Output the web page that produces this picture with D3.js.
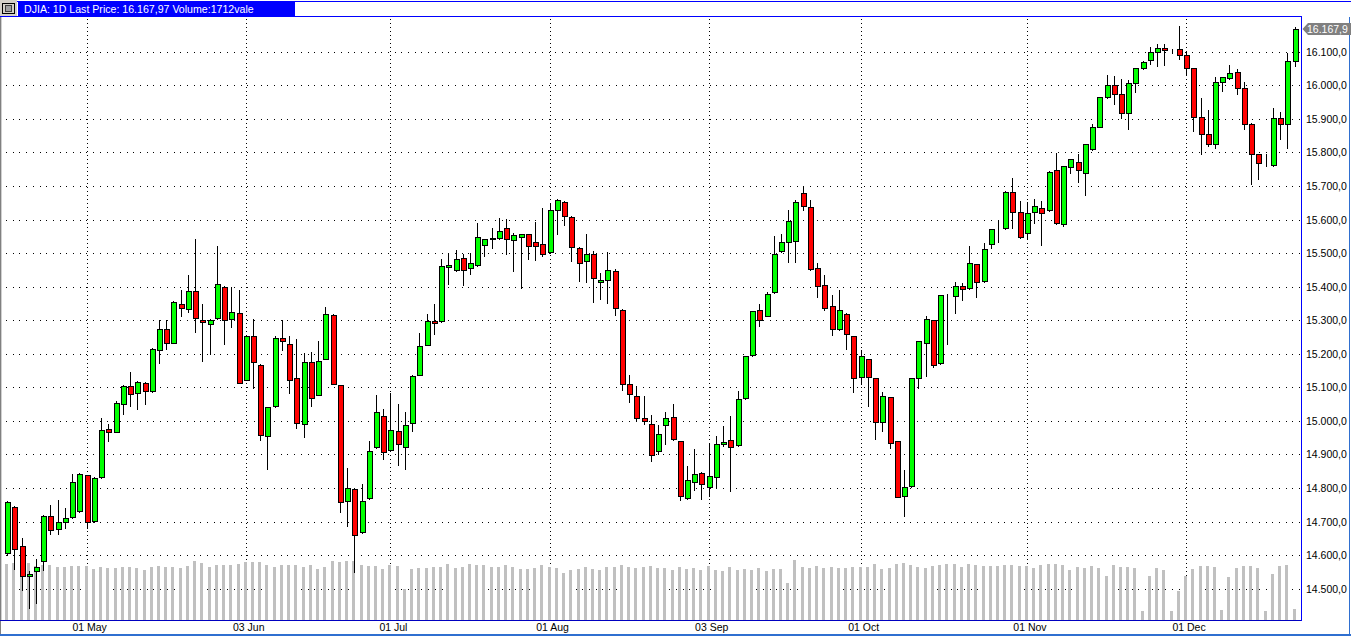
<!DOCTYPE html>
<html><head><meta charset="utf-8">
<script src="https://cdn.jsdelivr.net/npm/d3@7"></script>
<style>
html,body{margin:0;padding:0;background:#fff;overflow:hidden}
svg{display:block;font-family:"Liberation Sans",Arial,sans-serif}
</style></head><body>
<svg id="c" width="1351" height="636"></svg>
<script>
// ---------------- DATA ----------------
const titleText = "DJIA: 1D Last Price: 16.167,97 Volume:1712vale";
const lastPriceText = "16.167,9";
const lastPrice = 16167.97;

const opens = [14605,14744,14626,14539,14552,14582,14718,14679,14698,14714,
14731,14838,14702,14833,14976,14968,15051,15105,15084,15114,
15089,15212,15274,15233,15349,15334,15387,15301,15289,15307,
15399,15304,15322,15123,15253,15167,14956,15043,15247,15230,
15129,14992,15176,15078,15185,15316,15106,14760,14796,14668,
14770,14921,15016,14912,14971,14923,14995,15138,15227,15298,
15298,15458,15449,15485,15455,15464,15524,15541,15544,15574,
15539,15547,15556,15532,15526,15503,15628,15652,15607,15515,
15476,15498,15414,15420,15447,15331,15111,15075,15010,14992,
14909,14989,15013,14939,14769,14817,14844,14802,14832,14930,
14942,14927,15067,15195,15329,15314,15383,15505,15532,15535,
15678,15636,15455,15405,15342,15274,15318,15252,15132,15183,
15127,14996,15070,14939,14777,14805,15127,15231,15300,15172,
15372,15371,15401,15395,15466,15416,15526,15571,15574,15681,
15621,15559,15621,15633,15627,15747,15586,15755,15770,15740,
15809,15877,15964,16000,15973,15916,16006,16050,16074,16098,
16112,16103,16107,16089,16050,15904,15854,15824,16009,16021,
16039,15991,15886,15794,15766,15761,15901,15884,16071];

const highs = [14760,14746,14650,14553,14588,14720,14748,14763,14741,14843,
14845,14840,14833,15010,14990,15060,15107,15145,15119,15116,
15218,15301,15301,15358,15391,15436,15542,15349,15305,15522,
15401,15399,15391,15255,15304,15169,15042,15254,15302,15252,
15243,15203,15206,15238,15340,15318,15108,14859,14798,14811,
14940,15077,15034,15084,15050,15025,15137,15262,15319,15349,
15482,15497,15510,15498,15501,15590,15543,15576,15604,15601,
15559,15558,15558,15594,15635,15649,15660,15654,15609,15517,
15557,15506,15441,15503,15453,15333,15138,15105,15075,15019,
14989,15025,15049,14941,14867,14915,14847,14933,14956,14986,
15016,15088,15194,15328,15347,15383,15551,15557,15627,15657,
15700,15657,15470,15435,15375,15390,15320,15254,15211,15185,
15129,15085,15072,14941,14854,15129,15239,15313,15302,15376,
15378,15413,15410,15520,15468,15529,15573,15600,15684,15723,
15654,15652,15660,15654,15745,15798,15760,15781,15794,15826,
15886,15966,16032,16029,16018,16015,16052,16071,16114,16122,
16122,16107,16176,16101,16052,15961,15925,16024,16026,16059,
16047,16009,15888,15796,15794,15931,15919,16095,16175];

const lows = [14600,14559,14495,14442,14457,14555,14663,14663,14682,14712,
14728,14682,14700,14830,14941,14966,15022,15045,15036,15050,
15087,15172,15213,15231,15312,15324,15264,15179,15200,15305,
15229,15279,15112,15121,15099,14944,14857,15041,15210,15083,
14980,14952,15045,15076,15183,15109,14729,14688,14551,14666,
14768,14919,14885,14910,14868,14857,14970,15136,15225,15258,
15296,15407,15447,15405,15437,15462,15490,15514,15542,15496,
15448,15397,15481,15478,15490,15501,15556,15584,15475,15416,
15413,15355,15362,15352,15316,15093,15055,15004,14992,14879,
14900,14930,14943,14764,14767,14793,14767,14776,14799,14924,
14790,14925,15065,15193,15284,15312,15381,15503,15473,15473,
15627,15450,15369,15330,15256,15272,15214,15087,15109,15044,
14947,14971,14920,14772,14718,14803,15099,15135,15162,15170,
15230,15322,15361,15393,15368,15414,15514,15534,15572,15576,
15545,15541,15589,15523,15625,15587,15580,15738,15711,15672,
15807,15875,15962,15943,15901,15869,15979,16048,16062,16056,
16059,16095,16077,16032,15863,15794,15820,15812,15982,16019,
15973,15869,15705,15720,15760,15759,15839,15812,16056];

const closes = [14758,14617,14537,14545,14566,14718,14676,14700,14712,14818,
14841,14699,14830,14974,14968,15054,15105,15081,15117,15089,
15215,15274,15233,15354,15335,15387,15307,15296,15301,15409,
15301,15325,15114,15253,15175,14959,15040,15247,15239,15123,
14995,15176,15069,15179,15319,15111,14757,14799,14659,14760,
14909,15026,14908,14974,14932,14989,15135,15224,15298,15292,
15462,15464,15482,15449,15470,15547,15541,15544,15565,15541,
15553,15556,15520,15520,15497,15628,15658,15610,15518,15470,
15498,15426,15420,15450,15337,15111,15081,15010,15001,14897,
14962,15010,14945,14776,14823,14841,14811,14835,14930,14936,
14921,15064,15192,15326,15302,15377,15496,15532,15597,15651,
15639,15452,15402,15337,15274,15330,15259,15129,15192,15132,
14996,15073,14935,14774,14802,15127,15237,15303,15168,15374,
15373,15401,15392,15469,15413,15511,15571,15571,15681,15621,
15547,15618,15639,15618,15743,15589,15758,15779,15747,15824,
15877,15964,16000,15973,15916,16006,16050,16068,16098,16112,
16104,16103,16089,16050,15904,15854,15824,16009,16024,16036,
15991,15886,15794,15767,15766,15901,15884,16071,16168];

// volume: first value belongs to the session before the first visible candle (index -1)
const volumes = [142,
142,144,139,144,137,139,139,134,134,137,
137,137,129,134,132,132,134,134,132,127,
134,137,134,134,132,137,149,144,134,139,
139,139,142,147,147,147,139,134,139,139,
139,134,139,129,134,149,147,149,149,139,
137,137,129,139,137,79,129,132,132,134,
134,142,132,134,142,139,139,134,134,139,
134,129,129,132,139,134,132,119,127,129,
134,129,127,134,134,139,134,132,134,137,
132,132,127,134,129,132,127,137,127,124,
134,127,129,127,132,124,129,129,94,152,
134,132,137,132,134,132,132,134,134,134,
142,129,132,142,144,139,134,132,137,139,
142,142,134,142,139,137,137,137,139,139,
137,137,132,139,142,142,139,127,134,132,
137,132,112,139,134,134,132,24,112,132,
127,24,74,112,129,137,137,134,27,109,
132,137,137,132,24,117,137,139,29];

const monthTickIdx = [11,33,53,75,97,118,141,163];
const monthTickLabels = ["01 May","03 Jun","01 Jul","01 Aug","03 Sep","01 Oct","01 Nov","01 Dec"];
const priceTicks = [14500,14600,14700,14800,14900,15000,15100,15200,15300,15400,15500,15600,15700,15800,15900,16000,16100];

// ---------------- LAYOUT ----------------
const W = 1351, H = 636;
const plotL = 2, plotR = 1301, plotT = 17, plotB = 620.5;
const svg = d3.select("#c");

const x = d3.scaleLinear().domain([0, 178]).range([7.1, 7.1 + 7.233 * 178]);
const y = d3.scaleLinear().domain([14500, 16100]).range([588.7, 51.7]);
const yv = d3.scaleLinear().domain([0, 200]).range([plotB, plotB - 80]);

const candles = opens.map((o, i) => ({i, o, h: highs[i], l: lows[i], c: closes[i]}));
const vols = volumes.map((v, k) => ({i: k - 1, v}));

// header
svg.append("rect").attr("x", 0).attr("y", 0).attr("width", W).attr("height", H).attr("fill", "#fff");
const hdr = svg.append("g").attr("shape-rendering", "crispEdges");
hdr.append("line").attr("x1", 0).attr("x2", W).attr("y1", 1.5).attr("y2", 1.5).attr("stroke", "#0000ff");
hdr.append("rect").attr("x", 18).attr("y", 2).attr("width", 277).attr("height", 14).attr("fill", "#0000ff");
hdr.append("rect").attr("x", 0).attr("y", 0).attr("width", 17).attr("height", 17).attr("fill", "#d4d0c8");
hdr.append("rect").attr("x", 2.5).attr("y", 3.5).attr("width", 12).attr("height", 10).attr("fill", "#d4d0c8").attr("stroke", "#000");
hdr.append("rect").attr("x", 5.5).attr("y", 5.5).attr("width", 6).attr("height", 6).attr("fill", "#a0a0a0").attr("stroke", "#404040");
svg.append("text").attr("x", 24).attr("y", 13).attr("fill", "#fff").attr("font-size", "10.6px").text(titleText);

// frame lines
const fr = svg.append("g").attr("shape-rendering", "crispEdges");
fr.append("line").attr("x1", 0).attr("x2", plotR + 0.5).attr("y1", 16.5).attr("y2", 16.5).attr("stroke", "#0000ff");
fr.append("line").attr("x1", 0.5).attr("x2", 0.5).attr("y1", 17).attr("y2", H).attr("stroke", "#808080");
fr.append("line").attr("x1", 1.5).attr("x2", 1.5).attr("y1", 17).attr("y2", plotB).attr("stroke", "#d0d0d0");

// clip
svg.append("clipPath").attr("id", "pc").append("rect")
  .attr("x", plotL).attr("y", plotT).attr("width", plotR - plotL).attr("height", plotB - plotT);
const plot = svg.append("g").attr("clip-path", "url(#pc)");

// grid
const grid = plot.append("g").attr("shape-rendering", "crispEdges");
grid.selectAll("line.h").data(priceTicks).join("line")
  .attr("x1", plotL + 4).attr("x2", plotR - 1)
  .attr("y1", d => Math.round(y(d)) + 0.5).attr("y2", d => Math.round(y(d)) + 0.5)
  .attr("stroke", "#000").attr("stroke-dasharray", "1,5.7");
grid.selectAll("line.v").data(monthTickIdx).join("line")
  .attr("x1", d => Math.round(x(d)) + 0.5).attr("x2", d => Math.round(x(d)) + 0.5)
  .attr("y1", plotT + 2).attr("y2", plotB)
  .attr("stroke", "#000").attr("stroke-dasharray", "1,3");

// volume bars
plot.append("g").attr("shape-rendering", "crispEdges")
  .selectAll("rect").data(vols).join("rect")
  .attr("x", d => Math.round(x(d.i)) - 2)
  .attr("width", 3)
  .attr("y", d => Math.round(yv(d.v)))
  .attr("height", d => plotB - Math.round(yv(d.v)))
  .attr("fill", "#c0c0c0");

// candles
const cg = plot.append("g").attr("shape-rendering", "crispEdges");
const cs = cg.selectAll("g").data(candles).join("g");
cs.append("line")
  .attr("x1", d => Math.round(x(d.i)) + 0.5).attr("x2", d => Math.round(x(d.i)) + 0.5)
  .attr("y1", d => Math.round(y(d.h))).attr("y2", d => Math.round(y(d.l)) + 1)
  .attr("stroke", "#000");
cs.append("rect")
  .attr("x", d => Math.round(x(d.i)) - 2 + 0.5)
  .attr("width", 5)
  .attr("y", d => Math.round(y(Math.max(d.o, d.c))) + 0.5)
  .attr("height", d => Math.max(0, Math.round(y(Math.min(d.o, d.c))) - Math.round(y(Math.max(d.o, d.c)))))
  .attr("fill", d => d.c >= d.o ? "#00ff00" : "#ff0000")
  .attr("stroke", "#000");

// bottom / right borders
fr.raise();
svg.append("line").attr("x1", 0).attr("x2", plotR + 1).attr("y1", 620.5).attr("y2", 620.5).attr("stroke", "#0000c0").attr("shape-rendering", "crispEdges");
svg.append("line").attr("x1", plotR + 0.5).attr("x2", plotR + 0.5).attr("y1", 16).attr("y2", 621).attr("stroke", "#0000ff").attr("shape-rendering", "crispEdges");
svg.append("line").attr("x1", 0).attr("x2", W).attr("y1", 634.5).attr("y2", 634.5).attr("stroke", "#2f6fd0").attr("stroke-width", 2).attr("shape-rendering", "crispEdges");
svg.append("line").attr("x1", W - 1.5).attr("x2", W - 1.5).attr("y1", 17).attr("y2", H).attr("stroke", "#2f6fd0").attr("stroke-width", 1).attr("shape-rendering", "crispEdges");

// y-axis labels
const fmt = v => d3.format(",.1f")(v).replace(/,/g, "#").replace(".", ",").replace(/#/g, ".");
svg.append("g").selectAll("text").data(priceTicks).join("text")
  .attr("x", 1306).attr("y", d => y(d) + 4)
  .attr("font-size", "10.5px").attr("fill", "#000")
  .text(d => fmt(d));

// x-axis labels
svg.append("g").selectAll("text").data(monthTickIdx).join("text")
  .attr("x", d => x(d) + 3).attr("y", 631)
  .attr("text-anchor", "middle").attr("font-size", "10.5px").attr("fill", "#000")
  .text((d, k) => monthTickLabels[k]);

// last price marker
const ly = Math.round(y(lastPrice));
svg.append("path")
  .attr("d", `M1302.5,${ly} L1308,${ly - 6} L${W},${ly - 6} L${W},${ly + 6} L1308,${ly + 6} Z`)
  .attr("fill", "#808080");
svg.append("text").attr("x", 1307).attr("y", ly + 4).attr("fill", "#fff").attr("font-size", "10.5px").text(lastPriceText);
</script>
</body></html>
